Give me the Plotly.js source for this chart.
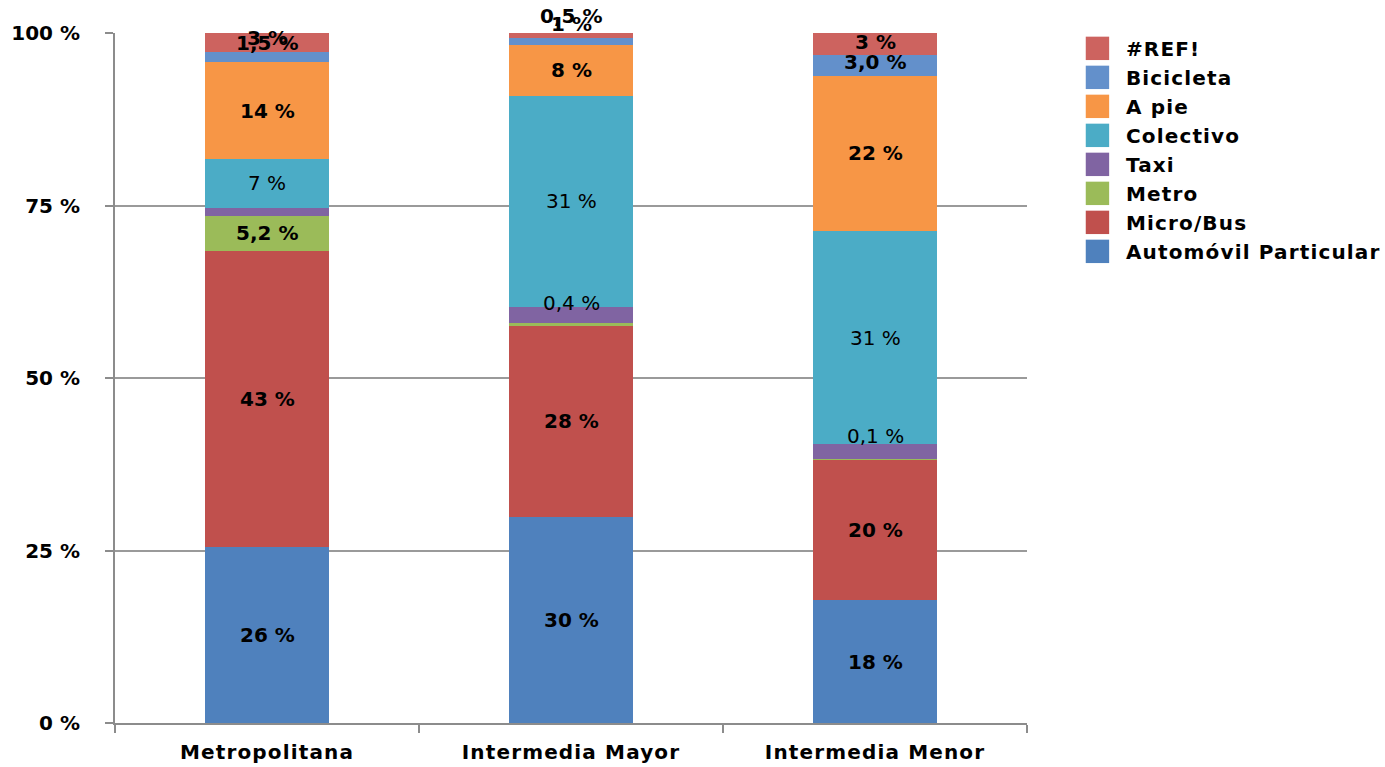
<!DOCTYPE html>
<html>
<head>
<meta charset="utf-8">
<script src="https://cdn.plot.ly/plotly-3.0.1.min.js"></script>
<style>
html,body{margin:0;padding:0;background:#fff;}
#chart{width:1385px;height:767px;}
#chart .xtick text, #chart .legendtext { letter-spacing: 1.15px; }
</style>
</head>
<body>
<div id="chart"></div>
<script>
const categories = ['Metropolitana', 'Intermedia Mayor', 'Intermedia Menor'];

const automovil = [25.5, 29.9, 17.8];
const microBus  = [42.9, 27.7, 20.3];
const metro     = [5.1, 0.4, 0.1];
const taxi      = [1.2, 2.3, 2.2];
const colectivo = [7.0, 30.6, 30.9];
const aPie      = [14.1, 7.4, 22.5];
const bicicleta = [1.4, 1.0, 3.0];
const ref       = [2.9, 0.7, 3.2];

const automovilLabels = ['26 %', '30 %', '18 %'];
const microBusLabels  = ['43 %', '28 %', '20 %'];
const metroLabels     = ['5,2 %', '0,4 %', '0,1 %'];
const taxiLabels      = ['', '', ''];
const colectivoLabels = ['7 %', '31 %', '31 %'];
const aPieLabels      = ['14 %', '8 %', '22 %'];
const bicicletaLabels = ['1,5 %', '1 %', '3,0 %'];
const refLabels       = ['3 %', '0,5 %', '3 %'];

const yTickVals = [0, 25, 50, 75, 100];
const yTickText = ['0 %', '25 %', '50 %', '75 %', '100 %'];

const series = [
  {name: 'Automóvil Particular', y: automovil, labels: automovilLabels, color: '#4F81BD', bold: true},
  {name: 'Micro/Bus', y: microBus, labels: microBusLabels, color: '#C0504D', bold: true},
  {name: 'Metro', y: metro, labels: metroLabels, color: '#9BBB59', bold: true},
  {name: 'Taxi', y: taxi, labels: taxiLabels, color: '#8064A2', bold: true},
  {name: 'Colectivo', y: colectivo, labels: colectivoLabels, color: '#4BACC6', bold: false},
  {name: 'A pie', y: aPie, labels: aPieLabels, color: '#F79646', bold: true},
  {name: 'Bicicleta', y: bicicleta, labels: bicicletaLabels, color: '#6390CB', bold: true},
  {name: '#REF!', y: ref, labels: refLabels, color: '#CD635F', bold: true}
];

const FONT = 'DejaVu Sans, Verdana, sans-serif';
const plotTop = 33, plotBottom = 723;
const pxPerUnit = (plotBottom - plotTop) / 100;

const traces = series.map(s => ({
  type: 'bar',
  name: s.name,
  x: categories,
  y: s.y,
  marker: {color: s.color, line: {width: 0}},
  hoverinfo: 'skip'
}));

const annotations = [];
const cum = categories.map(() => 0);
series.forEach(s => {
  s.y.forEach((v, i) => {
    const center = cum[i] + v / 2;
    cum[i] += v;
    const txt = s.labels[i];
    if (!txt) return;
    const segPx = v * pxPerUnit;
    const lift = Math.max(0, 24 - segPx);
    const bold = s.bold && !(s.name === 'Metro' && v < 1);
    annotations.push({
      x: categories[i], y: center, xref: 'x', yref: 'y',
      text: bold ? '<b>' + txt + '</b>' : txt,
      showarrow: false, yshift: lift,
      font: {family: FONT, size: 20, color: '#000'}
    });
  });
});

const layout = {
  width: 1385, height: 767,
  margin: {l: 115, r: 358, t: 33, b: 44},
  paper_bgcolor: '#fff', plot_bgcolor: '#fff',
  barmode: 'stack',
  bargap: 0.59,
  font: {family: FONT, size: 20, color: '#000'},
  xaxis: {
    type: 'category',
    showline: true, linecolor: '#8c8c8c', linewidth: 2,
    ticks: 'outside', tickson: 'boundaries', ticklen: 8, tickcolor: '#8c8c8c', tickwidth: 2,
    ticklabelstandoff: 10,
    tickfont: {family: FONT, size: 20, color: '#000', weight: 'bold'},
    showgrid: false, zeroline: false, fixedrange: true
  },
  yaxis: {
    range: [0, 100],
    tickvals: yTickVals, ticktext: yTickText,
    showline: true, linecolor: '#8c8c8c', linewidth: 2,
    ticks: 'outside', ticklen: 8, tickcolor: '#8c8c8c', tickwidth: 2,
    ticklabelstandoff: 21,
    showgrid: true, gridcolor: '#9a9a9a', gridwidth: 2,
    zeroline: false,
    tickfont: {family: FONT, size: 20, color: '#000', weight: 'bold'},
    fixedrange: true
  },
  legend: {
    x: 1.046, y: 1.006, xanchor: 'left', yanchor: 'top',
    traceorder: 'reversed',
    font: {family: FONT, size: 20, color: '#000', weight: 'bold'},
    tracegroupgap: 0, itemwidth: 47,
    bgcolor: 'rgba(0,0,0,0)'
  },
  annotations: annotations,
  showlegend: true
};

Plotly.newPlot('chart', traces, layout, {displayModeBar: false, staticPlot: true}).then(() => {
  document.querySelectorAll('#chart .legend .legendpoints path').forEach(p => {
    const t = p.getAttribute('transform') || '';
    p.setAttribute('transform', t + ' scale(1.95)');
  });
  document.querySelectorAll('#chart .legend [clip-path], #chart .legend').forEach(el => {
    el.removeAttribute('clip-path');
  });
});
</script>
</body>
</html>
